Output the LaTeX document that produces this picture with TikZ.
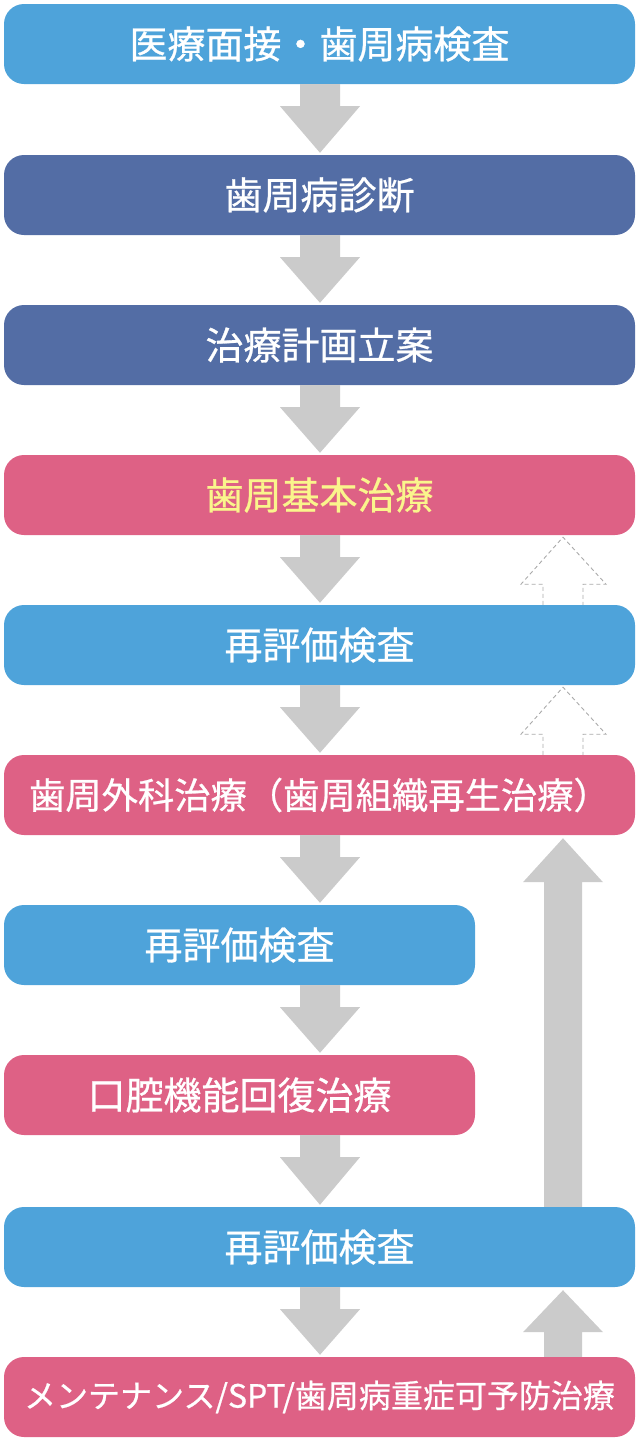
\documentclass[tikz,border=0pt]{standalone}
\usepackage{fontspec}
\setmainfont{Noto Sans CJK JP}[BoldFont=Noto Sans CJK JP, BoldFeatures={FakeBold=0.7}]
\usetikzlibrary{calc}
\definecolor{lb}{HTML}{4EA3DA}
\definecolor{db}{HTML}{536DA5}
\definecolor{pk}{HTML}{DE6185}
\definecolor{yl}{HTML}{FAF58C}
\definecolor{ag}{HTML}{CBCBCB}
\definecolor{dg}{HTML}{AAAAAA}
\newcommand\lbl[1]{\raisebox{-2.5pt}{#1}}
\tikzset{
  box/.style={rounded corners=20pt, minimum height=80pt, inner sep=0pt, text=white,
    font=\fontsize{38}{40}\selectfont\bfseries},
  wide/.style={minimum width=631pt},
  narrow/.style={minimum width=471pt},
  garrow/.style={fill=ag, draw=none},
  darrow/.style={draw=dg, line width=0.9pt, dash pattern=on 4pt off 3pt}
}
\newcommand\dnarr[2]{%
  \fill[garrow] ($(ax |- #1.south)+(-20,0)$) -- ++(0,22) -- ++(-20,0)
    -- ($(ax |- #2.north)+(0,-2)$) -- ($(ax |- #1.south)+(40,22)$) -- ++(-20,0)
    -- ($(ax |- #1.south)+(20,0)$) -- cycle;}
\newcommand\uparr[3]{% from lower node #1 to upper node #2, head length #3
  \fill[garrow] ($(ux |- #1.north)+(-19,0)$) -- ($(ux |- #2.south)+(-19,#3)$) -- ++(-21,0)
    -- ($(ux |- #2.south)+(0,3)$) -- ($(ux |- #2.south)+(40,#3)$) -- ++(-21,0)
    -- ($(ux |- #1.north)+(19,0)$) -- cycle;}
\newcommand\dasharr[2]{%
  \draw[darrow] ($(ux |- #1.north)+(-20,0)$) -- ($(ux |- #2.south)+(-20,49)$) -- ++(-22,0)
    -- ($(ux |- #2.south)+(0,2)$) -- ($(ux |- #2.south)+(43,49)$) -- ++(-23,0)
    -- ($(ux |- #1.north)+(20,0)$);}
\begin{document}
\begin{tikzpicture}[x=1pt,y=-1pt]
\useasboundingbox (0,0) rectangle (640,1446);
\coordinate (ax) at (320,0);
\coordinate (ux) at (563,0);
\node[box,wide,fill=lb] (b1) at (319.5,44) {\lbl{医療面接・歯周病検査}};
\node[box,wide,fill=db] (b2) at (319.5,195) {\lbl{歯周病診断}};
\node[box,wide,fill=db] (b3) at (319.5,345) {\lbl{治療計画立案}};
\node[box,wide,fill=pk,text=yl] (b4) at (319.5,495) {\lbl{歯周基本治療}};
\node[box,wide,fill=lb] (b5) at (319.5,645) {\lbl{再評価検査}};
\node[box,wide,fill=pk,font=\fontsize{36.3}{40}\selectfont\bfseries] (b6) at (319.5,795) {\lbl{歯周外科治療（歯周組織再生治療）}};
\node[box,narrow,fill=lb] (b7) at (239.5,945) {\lbl{再評価検査}};
\node[box,narrow,fill=pk] (b8) at (239.5,1095) {\lbl{口腔機能回復治療}};
\node[box,wide,fill=lb] (b9) at (319.5,1247) {\lbl{再評価検査}};
\node[box,wide,fill=pk,font=\fontsize{32}{34}\selectfont\bfseries] (b10) at (319.5,1397) {\lbl{メンテナンス/SPT/歯周病重症可予防治療}};
\dnarr{b1}{b2}
\dnarr{b2}{b3}
\dnarr{b3}{b4}
\dnarr{b4}{b5}
\dnarr{b5}{b6}
\dnarr{b6}{b7}
\dnarr{b7}{b8}
\dnarr{b8}{b9}
\dnarr{b9}{b10}
\uparr{b9}{b6}{47}
\uparr{b10}{b9}{45}
\dasharr{b5}{b4}
\dasharr{b6}{b5}
\end{tikzpicture}
\end{document}
